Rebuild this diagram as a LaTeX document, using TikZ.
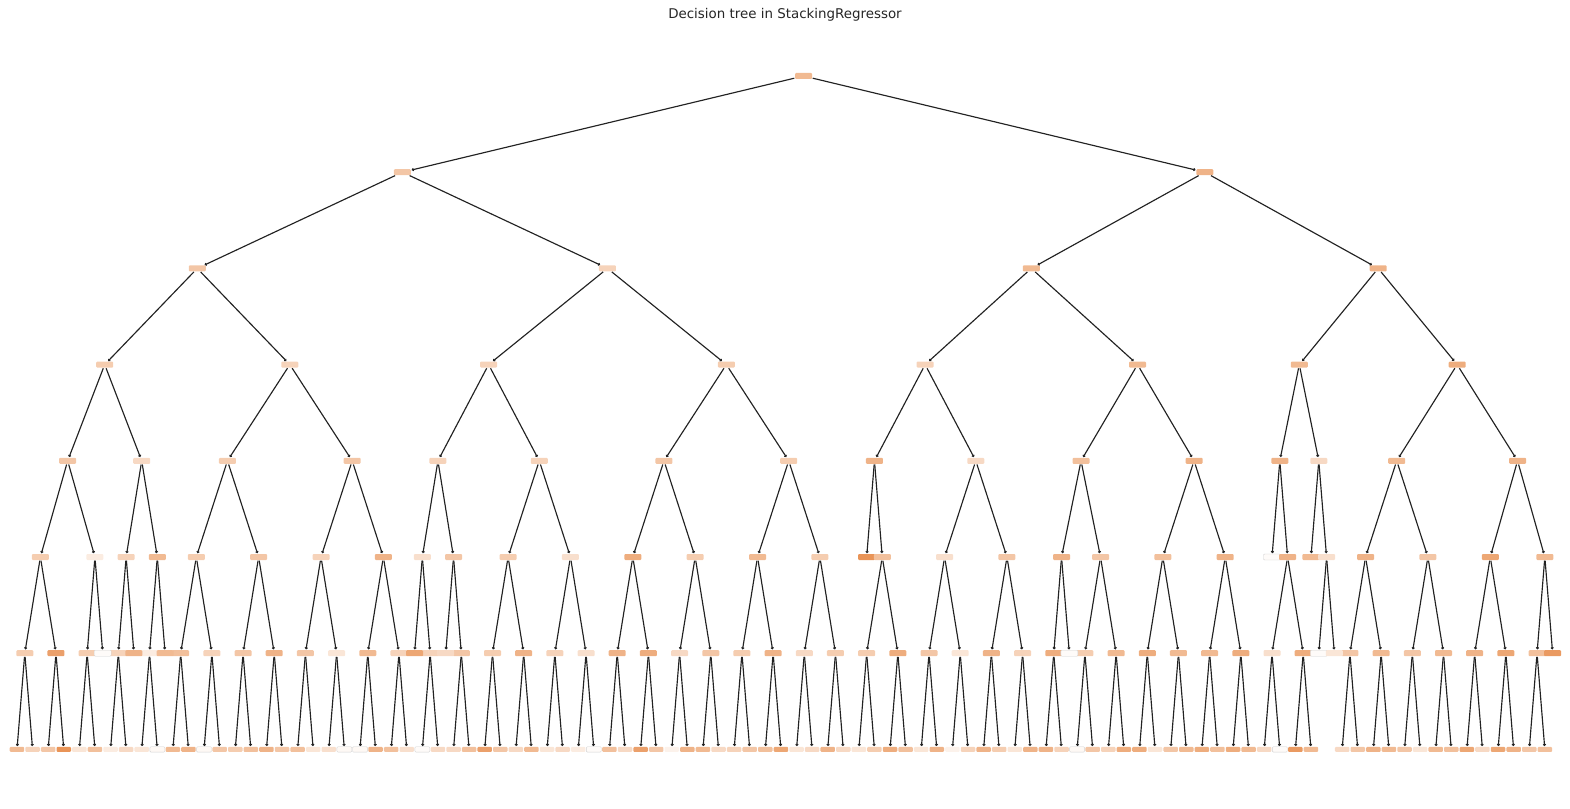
\documentclass[tikz,border=0pt]{standalone}
\usepackage{fontspec}
\setmainfont{DejaVu Sans}
\usetikzlibrary{arrows.meta}
\definecolor{tc}{HTML}{E58139}
\definecolor{ec}{HTML}{222222}
\begin{document}
\begin{tikzpicture}[x=15.59pt,y=-96.2pt,
  nd/.style={rectangle, rounded corners=1pt, inner sep=0pt, minimum width=17pt, minimum height=6pt},
  lf/.style={nd, minimum width=14.5pt, minimum height=5pt},
  wb/.style={draw=black!18, line width=0.4pt},
  edge/.style={draw=ec, line width=1.15pt, shorten <=0.5pt, shorten >=0.5pt, -{Straight Barb[length=1.2pt,width=2.4pt]}},
  ttl/.style={font=\fontsize{13.4}{16}\selectfont, text=black!85}]
\useasboundingbox (-17pt,76pt) rectangle (1553pt,-732pt);
\node[ttl] (title) at (768pt,61pt) {Decision tree in StackingRegressor};

% level 7 leaves
\foreach \k/\a in {0/55,1/35,2/45,3/85,4/20,5/50,6/15,7/30,8/20,9/5,10/55,11/60,12/5,13/45,14/40,15/50,16/60,17/45,18/50,19/20,20/25,21/5,22/5,23/60,24/50,25/25,26/3,27/30,28/30,29/50,30/75,31/45,32/30,33/55,34/20,35/30,36/15,37/3,38/50,39/30,40/75,41/45,42/10,43/60,44/55,45/30,46/35,47/45,48/50,49/70,50/20,51/30,52/60,53/30,54/20,55/40,56/65,57/50,58/20,59/60,60/10,61/35,62/60,63/40,64/20,65/60,66/60,67/35,68/5,69/45,70/35,71/65,72/65,73/20,74/45,75/55,76/65,77/50,78/65,79/55,80/30,81/3,82/80,83/55,85/30,86/45,87/60,88/55,89/45,90/20,91/55,92/50,93/70,94/30,95/70,96/60,97/45,98/50}
  \node[lf, fill=tc!\a] (d7k\k) at (\k,7) {};
% faint outline for the near-white leaves
\foreach \k in {9,12,21,22,26,37,68,81}
  \draw[wb, rounded corners=1pt] (d7k\k.south west) rectangle (d7k\k.north east);

% level 6 internal nodes and their edges
\foreach \k/\a in {0/40,2/75,4/40,6/35,8/15,10/50,12/35,14/45,16/60,18/45,20/20,22/55,24/35,26/35,28/45,30/40,32/60,34/35,36/25,38/60,40/65,42/30,44/45,46/40,48/60,50/30,52/40,54/40,56/65,58/45,60/20,62/60,64/35,66/65,68/40,70/55,72/65,74/55,76/55,78/65,80/25,82/65,85/45,87/55,89/45,91/55,93/60,95/70,97/50}{
  \pgfmathtruncatemacro\kk{\k+1}
  \node[nd, fill=tc!\a] (i\k) at (\k+0.5,6) {};
  \draw[edge] (i\k) -- (d7k\k);
  \draw[edge] (i\k) -- (d7k\kk);
}

% level 6 leaves
\node[nd, fill=tc!3, wb]  (f5)  at (5.5,6) {};
\node[nd, fill=tc!60] (f7)  at (7.5,6) {};
\node[nd, fill=tc!55] (f9)  at (9.5,6) {};
\node[nd, fill=tc!70] (f25) at (25.5,6) {};
\node[nd, fill=tc!30] (f27) at (27.5,6) {};
\node[nd, fill=tc!3, wb]  (f67) at (67.5,6) {};
\node[nd, fill=tc!3, wb]  (f83) at (83.5,6) {};
\node[nd, fill=tc!20] (f84) at (84.5,6) {};
\node[nd, fill=tc!80] (f98) at (98.5,6) {};

% level 5
\node[nd, fill=tc!40] (q1)  at (1.5,5) {};
\node[nd, fill=tc!15] (q2)  at (5,5) {};
\node[nd, fill=tc!35] (q3)  at (7,5) {};
\node[nd, fill=tc!55] (q4)  at (9,5) {};
\node[nd, fill=tc!40] (q5)  at (11.5,5) {};
\node[nd, fill=tc!45] (q6)  at (15.5,5) {};
\node[nd, fill=tc!35] (q7)  at (19.5,5) {};
\node[nd, fill=tc!60] (q8)  at (23.5,5) {};
\node[nd, fill=tc!25] (q9)  at (26,5) {};
\node[nd, fill=tc!45] (q10) at (28,5) {};
\node[nd, fill=tc!40] (q11) at (31.5,5) {};
\node[nd, fill=tc!25] (q12) at (35.5,5) {};
\node[nd, fill=tc!65] (q13) at (39.5,5) {};
\node[nd, fill=tc!40] (q14) at (43.5,5) {};
\node[nd, fill=tc!55] (q15) at (47.5,5) {};
\node[nd, fill=tc!40] (q16) at (51.5,5) {};
\node[nd, fill=tc!85] (q17) at (54.5,5) {};
\node[nd, fill=tc!50] (q18) at (55.5,5) {};
\node[nd, fill=tc!25] (q19) at (59.5,5) {};
\node[nd, fill=tc!45] (q20) at (63.5,5) {};
\node[nd, fill=tc!60] (q21) at (67,5) {};
\node[nd, fill=tc!45] (q22) at (69.5,5) {};
\node[nd, fill=tc!50] (q23) at (73.5,5) {};
\node[nd, fill=tc!60] (q24) at (77.5,5) {};
\node[nd, fill=tc!3, wb]  (q25) at (80.5,5) {};
\node[nd, fill=tc!60] (q26) at (81.5,5) {};
\node[nd, fill=tc!55] (q27) at (83,5) {};
\node[nd, fill=tc!25] (q28) at (84,5) {};
\node[nd, fill=tc!60] (q29) at (86.5,5) {};
\node[nd, fill=tc!45] (q30) at (90.5,5) {};
\node[nd, fill=tc!70] (q31) at (94.5,5) {};
\node[nd, fill=tc!55] (q32) at (98,5) {};

\foreach \p/\a/\b in {q1/i0/i2, q2/i4/f5, q3/i6/f7, q4/i8/f9, q5/i10/i12, q6/i14/i16, q7/i18/i20, q8/i22/i24, q9/f25/i26, q10/f27/i28, q11/i30/i32, q12/i34/i36, q13/i38/i40, q14/i42/i44, q15/i46/i48, q16/i50/i52, q18/i54/i56, q19/i58/i60, q20/i62/i64, q21/i66/f67, q22/i68/i70, q23/i72/i74, q24/i76/i78, q26/i80/i82, q28/f83/f84, q29/i85/i87, q30/i89/i91, q31/i93/i95, q32/i97/f98}{
  \draw[edge] (\p) -- (\a);
  \draw[edge] (\p) -- (\b);
}

% level 4
\node[nd, fill=tc!45] (r1)  at (3.25,4) {};
\node[nd, fill=tc!30] (r2)  at (8,4) {};
\node[nd, fill=tc!40] (r3)  at (13.5,4) {};
\node[nd, fill=tc!45] (r4)  at (21.5,4) {};
\node[nd, fill=tc!35] (r5)  at (27,4) {};
\node[nd, fill=tc!35] (r6)  at (33.5,4) {};
\node[nd, fill=tc!45] (r7)  at (41.5,4) {};
\node[nd, fill=tc!40] (r8)  at (49.5,4) {};
\node[nd, fill=tc!60] (r9)  at (55,4) {};
\node[nd, fill=tc!30] (r10) at (61.5,4) {};
\node[nd, fill=tc!50] (r11) at (68.25,4) {};
\node[nd, fill=tc!60] (r12) at (75.5,4) {};
\node[nd, fill=tc!60] (r13) at (81,4) {};
\node[nd, fill=tc!30] (r14) at (83.5,4) {};
\node[nd, fill=tc!55] (r15) at (88.5,4) {};
\node[nd, fill=tc!60] (r16) at (96.25,4) {};

\foreach \p/\a/\b in {r1/q1/q2, r2/q3/q4, r3/q5/q6, r4/q7/q8, r5/q9/q10, r6/q11/q12, r7/q13/q14, r8/q15/q16, r9/q17/q18, r10/q19/q20, r11/q21/q22, r12/q23/q24, r13/q25/q26, r14/q27/q28, r15/q29/q30, r16/q31/q32}{
  \draw[edge] (\p) -- (\a);
  \draw[edge] (\p) -- (\b);
}

% level 3
\node[nd, fill=tc!40] (s1) at (5.625,3) {};
\node[nd, fill=tc!35] (s2) at (17.5,3) {};
\node[nd, fill=tc!35] (s3) at (30.25,3) {};
\node[nd, fill=tc!40] (s4) at (45.5,3) {};
\node[nd, fill=tc!35] (s5) at (58.25,3) {};
\node[nd, fill=tc!55] (s6) at (71.875,3) {};
\node[nd, fill=tc!55] (s7) at (82.25,3) {};
\node[nd, fill=tc!65] (s8) at (92.375,3) {};

\foreach \p/\a/\b in {s1/r1/r2, s2/r3/r4, s3/r5/r6, s4/r7/r8, s5/r9/r10, s6/r11/r12, s7/r13/r14, s8/r15/r16}{
  \draw[edge] (\p) -- (\a);
  \draw[edge] (\p) -- (\b);
}

% level 2
\node[nd, fill=tc!45] (t1) at (11.5625,2) {};
\node[nd, fill=tc!35] (t2) at (37.875,2) {};
\node[nd, fill=tc!55] (t3) at (65.06,2) {};
\node[nd, fill=tc!60] (t4) at (87.31,2) {};

\foreach \p/\a/\b in {t1/s1/s2, t2/s3/s4, t3/s5/s6, t4/s7/s8}{
  \draw[edge] (\p) -- (\a);
  \draw[edge] (\p) -- (\b);
}

% level 1
\node[nd, fill=tc!45] (u1) at (24.72,1) {};
\node[nd, fill=tc!60] (u2) at (76.19,1) {};
\draw[edge] (u1) -- (t1);
\draw[edge] (u1) -- (t2);
\draw[edge] (u2) -- (t3);
\draw[edge] (u2) -- (t4);

% root
\node[nd, fill=tc!55] (root) at (50.45,0) {};
\draw[edge] (root) -- (u1);
\draw[edge] (root) -- (u2);
\end{tikzpicture}
\end{document}
